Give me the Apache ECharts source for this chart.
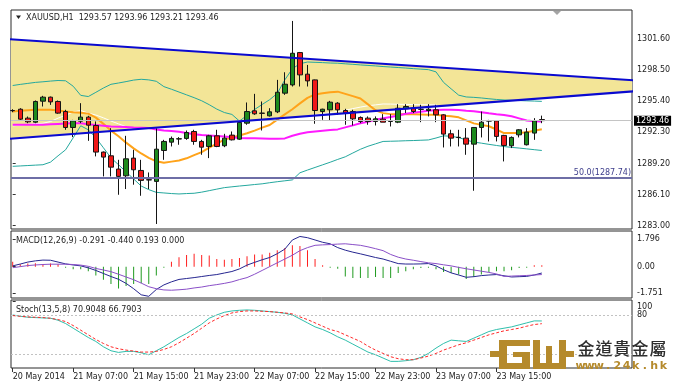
<!DOCTYPE html>
<html><head><meta charset="utf-8">
<script src="https://cdn.jsdelivr.net/npm/echarts/dist/echarts.min.js"></script>
<style>html,body{margin:0;padding:0;background:#fff}#c{width:686px;height:387px}</style>
</head><body><div id="c"></div>
<script>
// ---------- data ----------
const symbolName = 'XAUUSD,H1';
const tickBars = [0, 8, 16, 24, 32, 40, 48, 56, 64];
const tickLabels = ['20 May 2014', '21 May 07:00', '21 May 15:00', '21 May 23:00', '22 May 07:00', '22 May 15:00', '22 May 23:00', '23 May 07:00', '23 May 15:00'];
const priceTicks = [1283.00, 1286.10, 1289.20, 1292.30, 1295.40, 1298.50, 1301.60];
const macdTicks = [-1.751, 0, 1.796];
const stochTicks = [80, 100];

const open = [1294.45,1294.60,1293.71,1293.31,1295.40,1295.80,1295.37,1294.37,1292.78,1293.41,
1293.81,1292.98,1290.33,1289.96,1288.64,1287.97,1289.73,1288.50,1287.58,1287.41,
1290.49,1291.32,1291.63,1291.69,1292.38,1291.39,1290.89,1291.95,1290.96,1292.02,
1291.62,1293.21,1294.44,1294.21,1293.94,1294.34,1296.20,1297.02,1300.24,1298.09,
1297.52,1294.37,1294.54,1295.20,1294.47,1294.37,1293.78,1293.71,1293.38,1293.61,
1293.38,1293.31,1294.64,1294.70,1294.60,1294.47,1294.54,1294.04,1292.15,1291.80,
1291.72,1291.12,1292.78,1293.44,1293.44,1291.99,1290.96,1292.05,1291.06,1292.22,
1293.57];
const close = [1294.47,1293.61,1293.34,1295.37,1295.80,1295.33,1294.21,1292.78,1293.44,1293.81,
1293.01,1290.33,1289.83,1288.83,1287.91,1289.66,1288.57,1287.51,1287.55,1290.62,
1291.39,1291.69,1291.66,1292.28,1291.39,1290.82,1291.95,1290.89,1291.72,1291.55,
1293.28,1294.37,1294.14,1294.19,1294.34,1296.29,1297.09,1300.17,1298.02,1297.42,
1294.47,1294.60,1295.30,1294.54,1294.21,1293.64,1293.38,1293.38,1293.64,1293.31,
1293.40,1294.70,1294.87,1294.37,1294.58,1294.60,1294.04,1292.12,1291.72,1291.78,
1291.12,1292.78,1293.31,1293.42,1291.89,1290.99,1291.79,1292.55,1292.32,1293.44,
1293.46];
const high = [1294.60,1294.70,1293.87,1295.47,1295.93,1295.86,1295.47,1294.54,1293.54,1295.20,
1293.94,1293.38,1290.39,1292.71,1289.56,1291.95,1290.56,1289.56,1288.30,1292.71,
1291.55,1291.88,1291.82,1292.48,1292.55,1291.55,1292.05,1292.55,1292.15,1292.38,
1293.44,1295.27,1296.13,1295.37,1294.70,1297.52,1298.28,1303.39,1300.30,1299.01,
1297.55,1294.65,1295.43,1295.30,1294.64,1294.54,1293.88,1293.88,1293.88,1294.11,
1294.11,1295.10,1295.10,1295.10,1295.04,1295.10,1295.04,1294.11,1292.55,1292.55,
1292.72,1292.78,1294.37,1293.54,1293.44,1292.05,1291.89,1292.62,1292.72,1293.71,
1293.96];
const low = [1294.30,1293.48,1293.21,1293.21,1294.87,1295.03,1294.14,1292.55,1291.82,1293.21,
1291.45,1289.90,1287.91,1287.91,1286.08,1286.65,1287.08,1285.98,1286.65,1283.17,
1289.56,1290.89,1291.06,1291.55,1291.06,1290.06,1289.73,1290.82,1290.82,1291.49,
1291.55,1293.05,1294.04,1292.48,1293.87,1294.21,1296.03,1296.86,1296.86,1296.86,
1293.15,1293.54,1293.44,1294.04,1293.05,1292.98,1293.21,1293.05,1292.98,1293.31,
1292.88,1293.21,1294.21,1294.21,1293.31,1293.88,1293.31,1290.79,1290.89,1290.89,
1290.06,1286.48,1291.79,1291.39,1291.39,1289.40,1290.73,1291.79,1290.99,1291.55,
1293.21];

const maOrange = [1294.38,1294.44,1294.49,1294.54,1294.54,1294.54,1294.47,1294.38,1294.29,1294.24,
1294.16,1293.76,1293.14,1292.47,1291.90,1291.27,1290.70,1290.19,1289.76,1289.41,
1289.26,1289.38,1289.50,1289.71,1290.03,1290.33,1290.77,1291.17,1291.57,1291.77,
1291.99,1292.21,1292.47,1292.76,1293.03,1293.56,1294.08,1294.60,1295.18,1295.73,
1296.07,1296.18,1296.29,1296.35,1296.13,1295.90,1295.67,1295.08,1294.49,1294.21,
1294.11,1294.11,1294.11,1294.10,1294.08,1294.06,1294.04,1293.96,1293.90,1293.79,
1293.49,1293.19,1293.04,1292.90,1292.58,1292.22,1292.22,1292.22,1292.30,1292.45,
1292.61];
const maMagenta = [1293.05,1293.05,1293.05,1293.05,1293.05,1293.09,1293.13,1293.17,1293.21,1293.19,
1293.10,1293.02,1292.95,1292.88,1292.85,1292.82,1292.78,1292.75,1292.72,1292.59,
1292.49,1292.42,1292.35,1292.23,1292.10,1292.02,1291.97,1291.92,1291.87,1291.81,
1291.73,1291.71,1291.70,1291.69,1291.67,1291.65,1291.69,1291.95,1292.15,1292.30,
1292.39,1292.46,1292.53,1292.59,1292.79,1292.99,1293.20,1293.35,1293.54,1293.69,
1293.82,1293.98,1294.15,1294.25,1294.34,1294.44,1294.53,1294.54,1294.54,1294.52,
1294.45,1294.39,1294.29,1294.19,1294.10,1294.02,1293.89,1293.69,1293.48,1293.41,
1293.37];
const bbUpper = [1296.96,1297.07,1297.17,1297.27,1297.33,1297.40,1297.46,1297.43,1296.89,1295.98,
1295.86,1296.28,1296.71,1297.08,1297.21,1297.35,1297.50,1297.58,1297.52,1297.38,
1296.85,1296.59,1296.31,1296.03,1295.75,1295.44,1295.05,1294.61,1294.27,1294.08,
1293.42,1293.99,1294.57,1295.07,1295.55,1296.17,1297.52,1298.63,1299.13,1299.30,
1299.27,1299.24,1299.20,1299.18,1299.12,1299.07,1299.01,1298.96,1298.91,1298.85,
1298.80,1298.75,1298.70,1298.64,1298.59,1298.54,1298.32,1297.27,1296.63,1296.00,
1295.82,1295.78,1295.72,1295.64,1295.57,1295.52,1295.49,1295.46,1295.43,1295.41,
1295.38];
const bbLower = [1288.91,1288.95,1288.99,1289.03,1289.07,1289.33,1289.96,1290.56,1291.75,1292.95,
1292.55,1291.75,1290.76,1289.76,1289.07,1288.36,1287.65,1286.95,1286.59,1286.32,
1286.26,1286.20,1286.16,1286.20,1286.23,1286.34,1286.49,1286.64,1286.79,1286.87,
1286.95,1287.02,1287.10,1287.17,1287.28,1287.38,1287.47,1287.56,1288.27,1288.54,
1288.80,1289.06,1289.32,1289.60,1289.86,1290.24,1290.61,1290.91,1291.15,1291.39,
1291.41,1291.43,1291.46,1291.48,1291.51,1291.54,1291.73,1291.95,1291.90,1291.78,
1291.53,1291.33,1291.22,1291.10,1290.99,1290.88,1290.80,1290.73,1290.65,1290.57,
1290.49];
const bbMiddle = [1292.94,1293.01,1293.08,1293.15,1293.20,1293.37,1293.71,1294.00,1294.32,1294.47,
1294.21,1294.02,1293.74,1293.42,1293.14,1292.86,1292.58,1292.27,1292.06,1291.85,
1291.56,1291.40,1291.24,1291.12,1290.99,1290.89,1290.77,1290.63,1290.53,1290.48,
1290.19,1290.51,1290.84,1291.12,1291.42,1291.78,1292.50,1293.10,1293.70,1293.92,
1294.04,1294.15,1294.26,1294.39,1294.49,1294.66,1294.81,1294.94,1295.03,1295.12,
1295.11,1295.09,1295.08,1295.06,1295.05,1295.04,1295.03,1294.61,1294.27,1293.89,
1293.68,1293.56,1293.47,1293.37,1293.28,1293.20,1293.15,1293.10,1293.04,1292.99,
1292.94];
// trend lines: [bar index, price] anchors
const trendUpper = [[-1, 1301.59], [83, 1297.44]];
const trendLower = [[-1, 1291.61], [83, 1296.43]];
const lastPrice = 1293.46;
const fibLevel = 1287.74;

const macdHist = [0.32,0.16,0.20,0.23,0.16,0.20,0.16,-0.07,-0.18,-0.18,
-0.30,-0.59,-0.86,-1.14,-1.43,-1.27,-1.14,-1.09,-1.14,-0.59,
-0.07,0.32,0.61,0.77,0.84,0.77,0.73,0.50,0.45,0.50,
0.57,0.68,0.80,0.80,0.91,1.07,1.23,1.41,1.36,1.07,
0.50,0.09,-0.07,-0.14,-0.64,-0.75,-0.75,-0.75,-0.68,-0.75,
-0.75,-0.41,-0.30,-0.18,-0.09,-0.07,-0.18,-0.36,-0.41,-0.52,
-0.82,-0.68,-0.52,-0.36,-0.30,-0.30,-0.23,-0.09,-0.07,0.09,
0.09];
const macdMain = [0.05,0.17,0.30,0.38,0.43,0.42,0.30,0.18,0.11,0.05,
-0.08,-0.25,-0.45,-0.65,-0.83,-1.10,-1.45,-1.85,-1.95,-1.50,
-1.20,-1.00,-0.84,-0.78,-0.72,-0.65,-0.58,-0.52,-0.42,-0.32,
-0.15,0.10,0.28,0.45,0.60,0.85,1.15,1.75,1.98,1.90,
1.75,1.60,1.50,1.25,1.08,0.95,0.84,0.72,0.60,0.50,
0.35,0.20,0.17,0.17,0.18,0.20,0.05,-0.20,-0.41,-0.55,
-0.70,-0.66,-0.59,-0.55,-0.52,-0.60,-0.68,-0.66,-0.64,-0.55,
-0.42];
const macdSignal = [-0.07,0.00,0.07,0.11,0.14,0.16,0.16,0.16,0.14,0.10,
0.02,-0.12,-0.22,-0.33,-0.50,-0.68,-0.86,-1.08,-1.32,-1.45,
-1.53,-1.55,-1.52,-1.48,-1.40,-1.34,-1.25,-1.18,-1.10,-1.00,
-0.85,-0.72,-0.50,-0.25,0.00,0.25,0.50,0.75,1.05,1.25,
1.40,1.43,1.45,1.48,1.50,1.45,1.40,1.30,1.18,1.05,
0.80,0.62,0.50,0.42,0.33,0.25,0.20,0.12,0.05,-0.05,
-0.14,-0.22,-0.30,-0.38,-0.48,-0.64,-0.62,-0.60,-0.58,-0.55,
-0.52];
const stochK = [80,78,76.5,76,75.5,75,72,67,60,53,
46,40,32,26,23.5,25,25,23,20,26,
32,39,46,52,59,66,75,80,84,86,
87,87.5,87,86,85,84,82.5,80,74,68,
62,58,53,47,42,36,30,24,20,15,
10,10,11,12.5,16,22,30,37,42,41,
40,45,50,55,58,60,62,65,68,71,
70.9];
const stochD = [79,78,77,76.5,76,75,73,70,64,57,
50,43,37,32,29,27,25.5,24,24,25,
28,32,38,45,52,60,68,74,79,83,
85,86,86,85.5,85,84,83,81.5,77,73,
68,63,58,55,50,45,40,33,27,22,
17,14,12.5,12.5,15,18,22,27,31,35,
38,42,46,50,53,56,58,60,63,65.5,
66.8];
const stochLevels = [80, 20];

// ---------- chart ----------
const FONT = '"DejaVu Sans", Verdana, sans-serif';
const XMIN = -0.225, XMAX = 81.93;
const idx = a => a.map((v, i) => [i, v]);
const n = open.length - 1;
const candleData = open.map((o, i) => [i, o, close[i], low[i], high[i]]);

const gridStyle = {show: true, borderColor: '#2a2a2a', borderWidth: 1, backgroundColor: '#fff', containLabel: false, outerBoundsMode: 'none'};
const xBase = {type: 'value', min: XMIN, max: XMAX, axisLine: {show: false}, axisTick: {show: false}, axisLabel: {show: false}, splitLine: {show: false}};
function yAx(grid, min, max, ticks, fmt, rich) {
  return {gridIndex: grid, type: 'value', position: 'right', min, max, splitLine: {show: false}, axisLine: {show: false},
    axisTick: {show: true, customValues: ticks, length: 3, lineStyle: {color: '#333'}},
    axisLabel: {customValues: ticks, formatter: fmt, fontSize: 8, fontFamily: FONT, color: '#222', margin: 5, rich: rich || {}}};
}

const option = {
  animation: false,
  backgroundColor: '#fff',
  grid: [
    Object.assign({left: 11, top: 10, width: 621, height: 219}, gridStyle),
    Object.assign({left: 11, top: 231, width: 621, height: 67}, gridStyle),
    Object.assign({left: 11, top: 300, width: 621, height: 68}, gridStyle)
  ],
  xAxis: [
    Object.assign({gridIndex: 0}, xBase),
    Object.assign({gridIndex: 1}, xBase),
    Object.assign({}, xBase, {gridIndex: 2,
      axisTick: {show: true, customValues: tickBars, length: 4, lineStyle: {color: '#333'}},
      axisLabel: {show: true, customValues: tickBars, formatter: v => { const k = tickBars.indexOf(Math.round(v)); return k >= 0 ? tickLabels[k] : ''; },
        align: 'left', margin: 5, fontSize: 8, fontFamily: FONT, color: '#222'}})
  ],
  yAxis: [
    yAx(0, 1282.67, 1304.48, priceTicks, v => v.toFixed(2)),
    yAx(1, -2.06, 2.34, macdTicks, v => (Math.abs(v) < 1e-9 ? '0.00' : v.toFixed(3))),
    yAx(2, 0, 102.5, stochTicks, v => (v === 100 ? '{d|100}' : String(v)), {d: {fontSize: 8, fontFamily: FONT, color: '#222', padding: [10, 0, 0, 0]}})
  ],
  series: [
    // triangle fill between the two trend lines
    {type: 'custom', xAxisIndex: 0, yAxisIndex: 0, data: [[0, 0]], encode: {x: 0, y: 1}, clip: true, silent: true, z: 1,
      renderItem: (params, api) => {
        const pts = trendUpper.map(p => api.coord(p)).concat(trendLower.slice().reverse().map(p => api.coord(p)));
        return {type: 'polygon', shape: {points: pts}, style: {fill: '#f3e597', stroke: null}};
      }},
    // bollinger middle (white) + price lines
    {type: 'line', xAxisIndex: 0, yAxisIndex: 0, data: idx(bbMiddle), symbol: 'none', lineStyle: {color: '#ffffff', width: 1}, silent: true, z: 2,
      markLine: {symbol: ['none', 'none'], silent: true, animation: false, data: [
        {yAxis: lastPrice, lineStyle: {color: '#c4c4c4', width: 1, type: 'solid'},
          label: {show: true, position: 'end', formatter: lastPrice.toFixed(2), backgroundColor: '#000', color: '#fff', fontSize: 8, fontFamily: FONT, padding: [1, 2, 1, 2], distance: 2}},
        {yAxis: fibLevel, lineStyle: {color: '#6e6ea6', width: 2, type: 'solid'},
          label: {show: true, position: 'insideEndTop', formatter: '50.0(' + fibLevel.toFixed(2) + ')', color: '#3e3e8c', fontSize: 8, fontFamily: FONT, distance: 1}}
      ]}},
    {type: 'line', xAxisIndex: 0, yAxisIndex: 0, data: idx(bbUpper), symbol: 'none', lineStyle: {color: '#24a89e', width: 1}, silent: true, z: 3},
    {type: 'line', xAxisIndex: 0, yAxisIndex: 0, data: idx(bbLower), symbol: 'none', lineStyle: {color: '#24a89e', width: 1}, silent: true, z: 3},
    {type: 'line', xAxisIndex: 0, yAxisIndex: 0, data: idx(maOrange), symbol: 'none', lineStyle: {color: '#ffa31a', width: 2}, silent: true, z: 3},
    {type: 'line', xAxisIndex: 0, yAxisIndex: 0, data: idx(maMagenta), symbol: 'none', lineStyle: {color: '#ff1aff', width: 2}, silent: true, z: 3},
    {type: 'candlestick', xAxisIndex: 0, yAxisIndex: 0, data: candleData, encode: {x: 0, y: [1, 2, 3, 4]}, barWidth: 5,
      itemStyle: {color: '#1d8a1d', color0: '#f01818', borderColor: '#151515', borderColor0: '#151515', borderWidth: 1}, silent: true, z: 4},
    {type: 'line', xAxisIndex: 0, yAxisIndex: 0, data: trendUpper, symbol: 'none', lineStyle: {color: '#0a0ad0', width: 2}, silent: true, z: 5},
    {type: 'line', xAxisIndex: 0, yAxisIndex: 0, data: trendLower, symbol: 'none', lineStyle: {color: '#0a0ad0', width: 2}, silent: true, z: 5},
    // MACD
    {type: 'bar', xAxisIndex: 1, yAxisIndex: 1, data: idx(macdHist), barWidth: 1, silent: true,
      itemStyle: {color: p => (p.value[1] >= 0 ? '#ff1f1f' : '#1f9a1f')}},
    {type: 'line', xAxisIndex: 1, yAxisIndex: 1, data: idx(macdMain), symbol: 'none', lineStyle: {color: '#262690', width: 1}, silent: true, z: 3},
    {type: 'line', xAxisIndex: 1, yAxisIndex: 1, data: idx(macdSignal), symbol: 'none', lineStyle: {color: '#8a4fc8', width: 1}, silent: true, z: 3},
    // Stochastic
    {type: 'line', xAxisIndex: 2, yAxisIndex: 2, data: idx(stochK), symbol: 'none', lineStyle: {color: '#2fbfac', width: 1}, silent: true, z: 3,
      markLine: {symbol: ['none', 'none'], silent: true, animation: false, label: {show: false},
        lineStyle: {color: '#c2c2c2', width: 1, type: [2, 2]}, data: stochLevels.map(v => ({yAxis: v}))}},
    {type: 'line', xAxisIndex: 2, yAxisIndex: 2, data: idx(stochD), symbol: 'none', lineStyle: {color: '#ff2a2a', width: 1, type: [3, 2]}, silent: true, z: 3}
  ],
  graphic: (function () {
    const gold = '#b58a2c';
    const els = [];
    const txt = (t, x, y, extra) => els.push({type: 'text', silent: true, z: 100, style: Object.assign({text: t, x, y, font: '8px ' + FONT, fill: '#1e1e1e', verticalAlign: 'middle', align: 'left'}, extra || {})});
    els.push({type: 'polygon', silent: true, z: 100, shape: {points: [[16, 15.5], [21, 15.5], [18.5, 19]]}, style: {fill: '#222'}});
    txt(symbolName + '  ' + [open[n], high[n], low[n], close[n]].map(v => v.toFixed(2)).join(' '), 26, 17.5);
    txt('MACD(12,26,9) -0.291 -0.440 0.193 0.000', 16, 240.5);
    txt('Stoch(13,5,8) 70.9048 66.7903', 16, 309.5);
    els.push({type: 'polygon', silent: true, z: 100, shape: {points: [[553, 11], [561, 11], [557, 15]]}, style: {fill: '#a4a4a4'}});
    // logo
    const rects = [[490, 351, 9, 6], [499, 340, 31, 6], [499, 340, 8, 29], [499, 363, 31, 6], [522, 352, 8, 17], [513, 352, 17, 5],
      [533, 340, 7, 29], [546, 346, 6, 23], [559, 340, 7, 29], [533, 363, 33, 6], [566, 351, 8, 6]];
    rects.forEach(r => els.push({type: 'rect', silent: true, z: 100, shape: {x: r[0], y: r[1], width: r[2], height: r[3]}, style: {fill: gold}}));
    const cn = '金道貴金屬';
    for (let i = 0; i < cn.length; i++) {
      els.push({type: 'text', silent: true, z: 100, style: {text: cn[i], x: 586 + i * 18, y: 349, font: '500 17px "Noto Sans CJK TC"', fill: '#2e2e2e', align: 'center', verticalAlign: 'middle'}});
    }
    const web = 'www.24k.hk';
    for (let i = 0; i < web.length; i++) {
      els.push({type: 'text', silent: true, z: 100, style: {text: web[i], x: 580.5 + i * 9.2, y: 366, font: 'bold 11px ' + FONT, fill: gold, align: 'center', verticalAlign: 'middle'}});
    }
    return els;
  })()
};

const chart = echarts.init(document.getElementById('c'), null, {renderer: 'canvas'});
chart.setOption(option);
</script>
</body></html>
